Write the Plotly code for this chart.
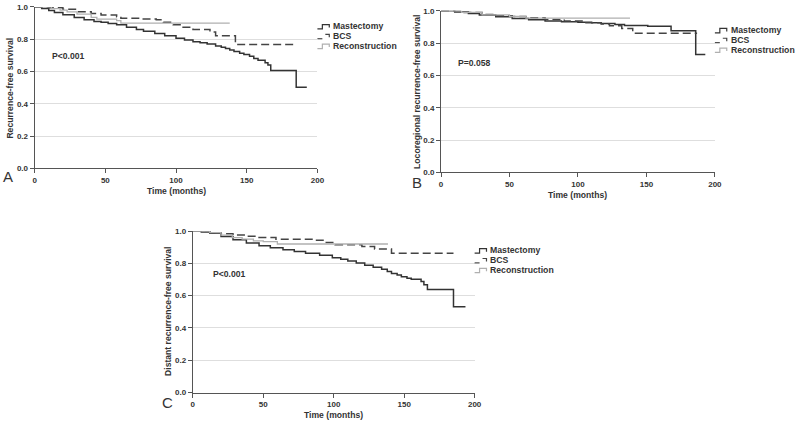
import plotly.graph_objects as go

W, H = 800, 425

# ---------------- data ----------------
# Panel A: Recurrence-free survival
a_mast_t = [0, 5, 10, 14, 20, 28, 35, 42, 47, 52, 58, 65, 72, 77, 85, 92, 100, 106, 112, 117, 122, 128,
            132, 135, 138, 141, 145, 148, 152, 155, 158, 162, 163, 165, 167, 185, 192.5]
a_mast_s = [1.0, 0.99, 0.978, 0.966, 0.952, 0.935, 0.92, 0.91, 0.905, 0.898, 0.889, 0.875, 0.86, 0.849,
            0.836, 0.822, 0.806, 0.795, 0.785, 0.778, 0.77, 0.758, 0.75, 0.742, 0.734, 0.724, 0.714, 0.705,
            0.694, 0.68, 0.67, 0.67, 0.655, 0.64, 0.607, 0.503, 0.503]
a_bcs_t = [0, 10, 20, 30, 40, 47, 58, 61, 75, 86, 91, 98, 105, 112, 124, 128, 142, 184]
a_bcs_s = [1.0, 0.995, 0.985, 0.97, 0.96, 0.95, 0.94, 0.93, 0.925, 0.92, 0.905, 0.89, 0.875, 0.86,
           0.845, 0.822, 0.768, 0.768]
a_rec_t = [0, 12, 18, 23, 30, 40, 44, 58, 61, 138]
a_rec_s = [1.0, 0.99, 0.98, 0.97, 0.955, 0.935, 0.925, 0.915, 0.90, 0.90]

# Panel B: Locoregional recurrence-free survival
b_mast_t = [0, 10, 20, 28, 40, 52, 64, 76, 88, 100, 110, 117, 127, 134, 151, 168, 186, 193]
b_mast_s = [1.0, 0.993, 0.983, 0.974, 0.963, 0.953, 0.945, 0.937, 0.932, 0.929, 0.926, 0.922, 0.915,
            0.91, 0.904, 0.877, 0.73, 0.73]
b_bcs_t = [0, 15, 30, 40, 52, 62, 76, 90, 103, 117, 123, 132, 140, 187]
b_bcs_s = [1.0, 0.99, 0.978, 0.97, 0.965, 0.958, 0.947, 0.937, 0.927, 0.919, 0.907, 0.89, 0.862, 0.862]
b_rec_t = [0, 15, 30, 50, 62, 138]
b_rec_s = [1.0, 0.99, 0.975, 0.965, 0.955, 0.955]

# Panel C: Distant recurrence-free survival
c_mast_t = [0, 6, 12, 20, 28.5, 38, 47, 55, 64, 72, 80, 90, 99, 105, 110, 116, 122, 128, 134, 138, 141,
            145, 148, 152, 155, 160, 162, 164, 166.5, 185, 193.5]
c_mast_s = [1.0, 0.995, 0.986, 0.966, 0.946, 0.927, 0.909, 0.897, 0.885, 0.874, 0.863, 0.85, 0.835,
            0.825, 0.815, 0.802, 0.789, 0.776, 0.763, 0.75, 0.738, 0.728, 0.718, 0.708, 0.702, 0.702,
            0.688, 0.668, 0.638, 0.531, 0.531]
c_bcs_t = [0, 12, 20, 28.5, 38, 47, 59, 87, 94, 101, 120, 129, 141, 185]
c_bcs_s = [1.0, 0.99, 0.983, 0.976, 0.968, 0.96, 0.95, 0.944, 0.93, 0.915, 0.905, 0.889, 0.863, 0.863]
c_rec_t = [0, 12, 20, 28, 35, 43, 50, 60, 138.5]
c_rec_s = [1.0, 0.99, 0.975, 0.96, 0.95, 0.94, 0.935, 0.92, 0.92]

groups = ["Mastectomy", "BCS", "Reconstruction"]
panel_letters = ["A", "B", "C"]
y_titles = ["Recurrence-free survival", "Locoregional recurrence-free survival",
            "Distant recurrence-free survival"]
p_texts = ["P<0.001", "P=0.058", "P<0.001"]
p_pos = [(11, 0.695), (11, 0.675), (13, 0.735)]
x_ticks = [0, 50, 100, 150, 200]
y_ticks = [0.0, 0.2, 0.4, 0.6, 0.8, 1.0]

series = [
    [(a_mast_t, a_mast_s), (a_bcs_t, a_bcs_s), (a_rec_t, a_rec_s)],
    [(b_mast_t, b_mast_s), (b_bcs_t, b_bcs_s), (b_rec_t, b_rec_s)],
    [(c_mast_t, c_mast_s), (c_bcs_t, c_bcs_s), (c_rec_t, c_rec_s)],
]

# ---------------- layout / style ----------------
boxes = [(33, 3, 319, 168), (444, 7, 721, 172), (193, 232, 478, 397)]  # plot areas in px
letter_pos = [(6, 176), (419.5, 182.5), (167.5, 407.5)]
styles = [
    dict(color="#333333", width=1.5, dash="solid"),
    dict(color="#444444", width=1.5, dash="8px,4px"),
    dict(color="#b0b0b0", width=1.3, dash="solid"),
]
FONT = "Liberation Sans, Arial, sans-serif"
AX = "#555555"
TXT = "#333333"


def px(x):
    return x / W


def py(y):
    return 1 - y / H


fig = go.Figure()
shapes = []
annotations = []

for i, box in enumerate(boxes):
    sfx = "" if i == 0 else str(i + 1)
    x0, y0, x1, y1 = box
    for (t, s), st in zip(series[i], styles):
        fig.add_trace(go.Scatter(
            x=t, y=s, mode="lines", xaxis="x" + sfx, yaxis="y" + sfx,
            line=dict(shape="hv", color=st["color"], width=st["width"], dash=st["dash"]),
            showlegend=False, hoverinfo="skip"))

    tickfont = dict(family=FONT, size=8, color=TXT, weight="bold")
    fig.update_layout(**{
        "xaxis" + sfx: dict(domain=[px(x0), px(x1)], range=[0, 200], anchor="y" + sfx,
                            tickvals=x_ticks, showline=True, linecolor=AX, linewidth=1,
                            ticks="outside", ticklen=4, tickcolor=AX, showgrid=False,
                            zeroline=False, tickfont=tickfont, fixedrange=True),
        "yaxis" + sfx: dict(domain=[py(y1), py(y0)], range=[0, 1], anchor="x" + sfx,
                            tickvals=y_ticks, tickformat=".1f", showline=True, linecolor=AX,
                            linewidth=1, ticks="outside", ticklen=4, tickcolor=AX,
                            showgrid=True, gridcolor="#dedede", gridwidth=1,
                            zeroline=False, tickfont=tickfont, fixedrange=True),
    })

    # axis titles
    annotations.append(dict(text="Time (months)", xref="paper", yref="paper",
                            x=px((x0 + x1) / 2), y=py(y1 + 23), showarrow=False,
                            xanchor="center", yanchor="middle",
                            font=dict(family=FONT, size=8.6, color=TXT, weight="bold")))
    annotations.append(dict(text=y_titles[i], xref="paper", yref="paper",
                            x=px(x0 - 25), y=py((y0 + y1) / 2), showarrow=False, textangle=-90,
                            xanchor="center", yanchor="middle",
                            font=dict(family=FONT, size=8.6, color=TXT, weight="bold")))
    # p-value
    annotations.append(dict(text=p_texts[i], xref="x" + sfx, yref="y" + sfx,
                            x=p_pos[i][0], y=p_pos[i][1], showarrow=False,
                            xanchor="left", yanchor="middle",
                            font=dict(family=FONT, size=8.6, color=TXT, weight="bold")))
    # panel letter
    annotations.append(dict(text=panel_letters[i], xref="paper", yref="paper",
                            x=px(letter_pos[i][0]), y=py(letter_pos[i][1]), showarrow=False,
                            xanchor="center", yanchor="middle",
                            font=dict(family=FONT, size=15, color=TXT)))

    # legend (glyph + text)
    for k, (name, st) in enumerate(zip(groups, styles)):
        yc = y0 + 19.5 + 10 * k
        R = x1
        if k == 1:
            shapes.append(dict(type="line", xref="paper", yref="paper",
                               x0=px(R), x1=px(R + 5), y0=py(yc + 3), y1=py(yc + 3),
                               line=dict(color=st["color"], width=1.2)))
            path = "M {} {} L {} {} L {} {}".format(px(R + 8), py(yc - 1.5), px(R + 12), py(yc - 1.5),
                                                  px(R + 12), py(yc + 1.5))
        else:
            path = "M {} {} L {} {} L {} {} L {} {} L {} {}".format(
                px(R), py(yc + 3), px(R + 5), py(yc + 3), px(R + 5), py(yc - 1.5),
                px(R + 12), py(yc - 1.5), px(R + 12), py(yc + 1.5))
        shapes.append(dict(type="path", path=path, xref="paper", yref="paper",
                           line=dict(color=st["color"], width=1.2)))
        annotations.append(dict(text=name, xref="paper", yref="paper",
                                x=px(R + 14), y=py(yc), showarrow=False,
                                xanchor="left", yanchor="middle",
                                font=dict(family=FONT, size=8.7, color=TXT, weight="bold")))

fig.update_layout(width=W, height=H, margin=dict(l=0, r=0, t=0, b=0),
                  paper_bgcolor="white", plot_bgcolor="white",
                  shapes=shapes, annotations=annotations, showlegend=False)

fig.write_html("out.html", config={"displayModeBar": False, "staticPlot": True},
               post_script="document.body.style.margin='0';document.body.style.padding='0';"
                           "document.body.style.overflow='hidden';")
